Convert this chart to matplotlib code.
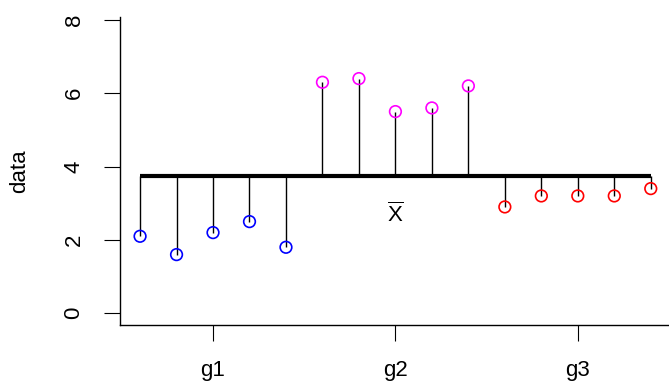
import numpy as np
import matplotlib
matplotlib.use("Agg")
import matplotlib.pyplot as plt

plt.rcParams['font.family'] = ['Liberation Sans', 'DejaVu Sans']
plt.rcParams['mathtext.fontset'] = 'custom'
plt.rcParams['mathtext.rm'] = 'Liberation Sans'

# data
g1 = [2.1, 1.6, 2.2, 2.5, 1.8]
g2 = [6.3, 6.4, 5.5, 5.6, 6.2]
g3 = [2.9, 3.2, 3.2, 3.2, 3.4]
group_colors = ['#0000FF', '#FF00FF', '#FF0000']
group_labels = ['g1', 'g2', 'g3']

data = np.array(g1 + g2 + g3)
idx = np.arange(1, len(data) + 1)
cols = [c for c, g in zip(group_colors, [g1, g2, g3]) for _ in g]
xbar = data.mean()

fig = plt.figure(figsize=(6.69, 3.83), dpi=100)
ax = fig.add_axes([120 / 669, (383 - 325) / 383, 549 / 669, (325 - 17) / 383])

# mean line and deviations
ax.plot([idx[0], idx[-1]], [xbar, xbar], color='black', lw=3, solid_capstyle='butt', zorder=2)
ax.vlines(idx, xbar, data, color='black', lw=1.0, zorder=1)
ax.scatter(idx, data, s=70, facecolors='none', edgecolors=cols, linewidths=1.2, zorder=3)

ax.text(8, xbar - 1.07, r'$\overline{\mathrm{X}}$', ha='center', va='center', fontsize=16)

ax.set_xlim(0.45, 15.5)
ax.set_ylim(-0.32, 8.08)
ax.set_yticks([0, 2, 4, 6, 8])
ax.set_xticks([3, 8, 13])
ax.set_xticklabels(group_labels)
ax.tick_params(axis='both', length=11.5, width=0.8, labelsize=16, pad=14, direction='out')
for lab in ax.get_yticklabels():
    lab.set_rotation(90)
    lab.set_va('center')
ax.set_ylabel('data', fontsize=16, labelpad=24)

ax.spines['top'].set_visible(False)
ax.spines['right'].set_visible(False)
ax.spines['left'].set_linewidth(1.0)
ax.spines['bottom'].set_linewidth(1.0)

fig.savefig('out.png', dpi=100)
